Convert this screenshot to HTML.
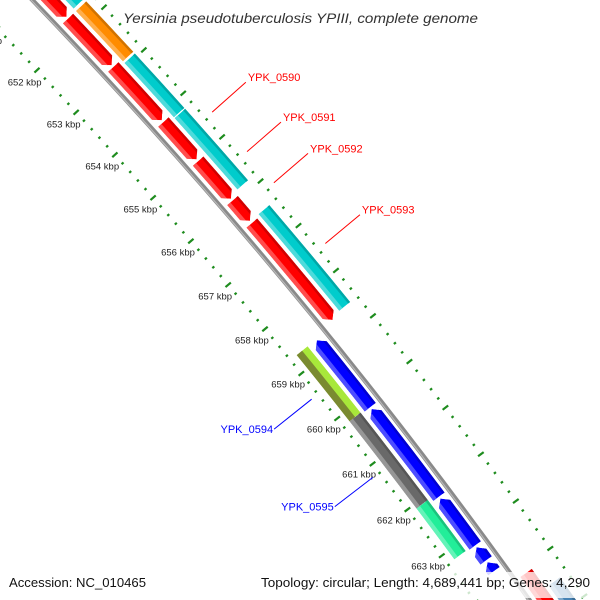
<!DOCTYPE html>
<html><head><meta charset="utf-8"><style>
html,body{margin:0;padding:0;background:#fff;width:600px;height:600px;overflow:hidden;}
svg{display:block;font-family:"Liberation Sans","DejaVu Sans",sans-serif;}
</style></head><body>
<svg id="map" width="600" height="600" viewBox="0 0 600 600" xmlns="http://www.w3.org/2000/svg">
<rect x="0" y="0" width="600" height="600" fill="#ffffff"/>
<g id="defs-holder"></g>
<circle cx="-3811" cy="3690" r="5328" fill="none" stroke="#8a8a8a" stroke-width="4.5"/>
<circle cx="-3811" cy="3690" r="5327" fill="none" stroke="#b8b8b8" stroke-width="1.2"/>
<g id="ruler"></g>
<g id="features"></g>
<g id="labels"></g>
<text x="123" y="23" font-size="14" font-style="italic" fill="#333" textLength="355" lengthAdjust="spacingAndGlyphs">Yersinia pseudotuberculosis YPIII, complete genome</text>
<rect x="256" y="572" width="340" height="26" fill="#ffffff" opacity="0.78"/>
<text x="9" y="587" font-size="13" fill="#111" textLength="137" lengthAdjust="spacingAndGlyphs">Accession: NC_010465</text>
<text x="261" y="587" font-size="13" fill="#111" textLength="329" lengthAdjust="spacingAndGlyphs">Topology: circular; Length: 4,689,441 bp; Genes: 4,290</text>
</svg>
<script>
// ---- data ----
var featStart  = [651.0, 651.72, 652.86, 654.14, 655.04, 655.94, 656.45, 664.1,
                  651.0, 651.72, 652.94, 654.22, 656.41, 664.5,
                  658.72, 660.24, 662.19, 663.24, 663.56,
                  658.70, 660.17, 662.08];
var featEnd    = [651.68, 652.82, 654.10, 655.0, 655.9, 656.40, 658.62, 665.5,
                  651.66, 652.90, 654.20, 655.85, 658.57, 666.0,
                  660.20, 662.15, 663.20, 663.52, 663.75,
                  660.17, 662.08, 663.18];
var featLane   = ['red','red','red','red','red','red','red','red',
                  'outer','outer','outer','outer','outer','outer',
                  'blue','blue','blue','blue','blue',
                  'inner','inner','inner'];
var featStrand = [1,1,1,1,1,1,1,1, 0,0,0,0,0,0, -1,-1,-1,-1,-1, 0,0,0];
var featColor  = ['#ff0000','#ff0000','#ff0000','#ff0000','#ff0000','#ff0000','#ff0000','#ff0000',
                  '#00cccc','#ff8c00','#00cccc','#00cccc','#00cccc','#4682b4',
                  '#0000ff','#0000ff','#0000ff','#0000ff','#0000ff',
                  '#a8e83a','#696969','#22ee99'];
var labelNames = ['YPK_0590','YPK_0591','YPK_0592','YPK_0593','YPK_0594','YPK_0595'];
var labelKbp   = [654.57, 655.47, 656.17, 657.53, 659.46, 661.19];
var labelSide  = [1,1,1,1,-1,-1];
var labelColor = ['#ff0000','#ff0000','#ff0000','#ff0000','#0000ff','#0000ff'];
var rulerFrom = 650, rulerTo = 667, rulerMinorStep = 0.2;

// ---- geometry ----
var NS='http://www.w3.org/2000/svg';
var CX=-3811, CY=3690, R0=5328;
var laneR = {red:[5334,5348], outer:[5352,5366], blue:[5309,5323], inner:[5291,5305]};
var RULER_IN=5283, RULER_OUT=5375;
function ang(k){ return (-43.25 + (k-652)*0.6236)*Math.PI/180; }
function P(r,a){ return [CX + r*Math.cos(a), CY + r*Math.sin(a)]; }
function f(p){ return p[0].toFixed(2)+' '+p[1].toFixed(2); }
function mk(tag, attrs, parent){ var e=document.createElementNS(NS,tag); for(var k in attrs) e.setAttribute(k,attrs[k]); parent.appendChild(e); return e; }
function sector(r1,r2,a1,a2){
  return 'M'+f(P(r2,a1))+' A'+r2+' '+r2+' 0 0 1 '+f(P(r2,a2))+' L'+f(P(r1,a2))+' A'+r1+' '+r1+' 0 0 0 '+f(P(r1,a1))+' Z';
}
function shape(r1,r2,a1,a2,strand){
  var rm=(r1+r2)/2, head=7/rm;
  if (head > (a2-a1)) head = (a2-a1);
  if (strand===1){
    var b=a2-head;
    return 'M'+f(P(r2,a1))+' A'+r2+' '+r2+' 0 0 1 '+f(P(r2,b))+' L'+f(P(rm,a2))+' L'+f(P(r1,b))+' A'+r1+' '+r1+' 0 0 0 '+f(P(r1,a1))+' Z';
  } else if (strand===-1){
    var s=a1+head;
    return 'M'+f(P(rm,a1))+' L'+f(P(r2,s))+' A'+r2+' '+r2+' 0 0 1 '+f(P(r2,a2))+' L'+f(P(r1,a2))+' A'+r1+' '+r1+' 0 0 0 '+f(P(r1,s))+' Z';
  }
  return sector(r1,r2,a1,a2);
}
function shade(hex, amt){
  var n=parseInt(hex.slice(1),16), r=n>>16, g=(n>>8)&255, b=n&255;
  function c(v){ return Math.max(0,Math.min(255,Math.round(amt>0? v+(255-v)*amt : v*(1+amt)))); }
  return 'rgb('+c(r)+','+c(g)+','+c(b)+')';
}

// ---- ruler ----
var ruler=document.getElementById('ruler');
var nSteps=Math.round((rulerTo-rulerFrom)/rulerMinorStep);
for (var i=0;i<=nSteps;i++){
  var k=rulerFrom+i*rulerMinorStep;
  var major=Math.abs(k-Math.round(k))<1e-6;
  var a=ang(k), len=major?7:2.6;
  [RULER_IN,RULER_OUT].forEach(function(rr,j){
    var p1=P(rr-len/2,a), p2=P(rr+len/2,a);
    var t=mk('line',{x1:p1[0],y1:p1[1],x2:p2[0],y2:p2[1],stroke:'#1e8c1e','stroke-width':2.2},ruler);
    
    
  });
  if (major){
    var lp=P(RULER_IN-17,a);
    var tl=mk('text',{x:lp[0],y:lp[1]+3.5,'font-size':9.5,'text-anchor':'middle',fill:'#222'},ruler);
    tl.textContent=Math.round(k)+' kbp';
    
    
  }
}

// ---- features ----
var feats=document.getElementById('features');
var defs=mk('defs',{},document.getElementById('defs-holder'));
for (var i=0;i<featStart.length;i++){
  var lr=laneR[featLane[i]], r1=lr[0], r2=lr[1];
  var a1=ang(featStart[i]), a2=ang(featEnd[i]);
  var d=shape(r1,r2,a1,a2,featStrand[i]);
  var cp=mk('clipPath',{id:'fc'+i},defs);
  mk('path',{d:d},cp);
  var g=mk('g',{'clip-path':'url(#fc'+i+')'},feats);
  
  
  var col=featColor[i];
  var main=mk('path',{d:d,fill:col},g);
  
  
  var w=r2-r1, aa=a1-0.01, ab=a2+0.01;
  if (featLane[i]==='inner' && col==='#a8e83a'){
    mk('path',{d:sector(r1-1,r1+w*0.5,aa,ab),fill:'#7a8a30'},g);
  } else {
    mk('path',{d:sector(r1-1,r1+w*0.3,aa,ab),fill:shade(col,0.3)},g);
    mk('path',{d:sector(r2-w*0.18,r2+1,aa,ab),fill:shade(col,-0.18)},g);
  }
}

// ---- labels ----
var labs=document.getElementById('labels');
for (var i=0;i<labelNames.length;i++){
  var a=ang(labelKbp[i]);
  var rs = labelSide[i]===1 ? 5384 : 5275;
  var re = labelSide[i]===1 ? rs+45 : rs-48;
  var p1=P(rs,a), p2=P(re,a);
  var ln=mk('line',{x1:p1[0],y1:p1[1],x2:p2[0],y2:p2[1],stroke:labelColor[i],'stroke-width':1},labs);
  
  
  var tx = labelSide[i]===1 ? p2[0]+2 : p2[0]-1;
  var ty = labelSide[i]===1 ? p2[1]-1 : p2[1]+4;
  var t=mk('text',{x:tx,y:ty,'font-size':11,fill:labelColor[i],'text-anchor':labelSide[i]===1?'start':'end'},labs);
  t.textContent=labelNames[i];
  
  
}
</script>
</body></html>
